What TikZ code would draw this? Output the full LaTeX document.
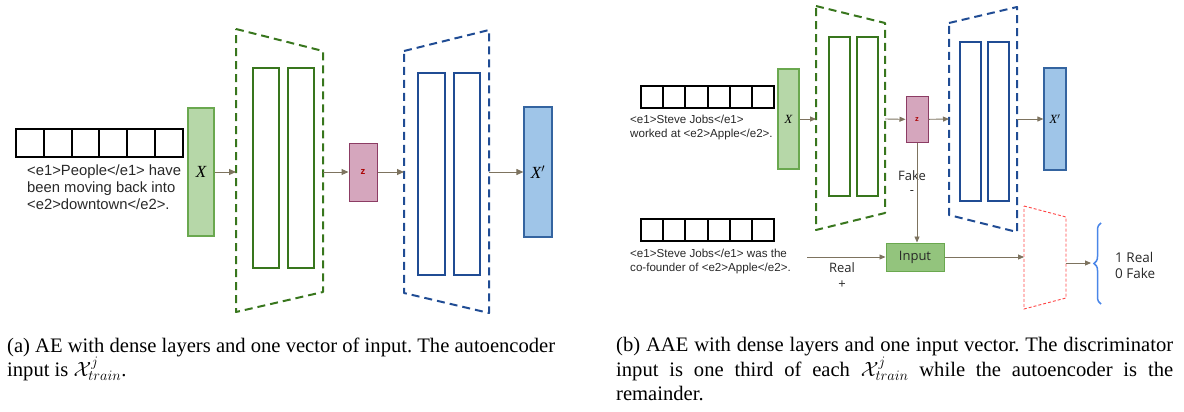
\documentclass[tikz,border=0pt]{standalone}
\usepackage{fix-cm}
\usepackage{fontspec}
\setmainfont{Liberation Serif}
\newfontfamily\arialf{Liberation Sans}
\newfontfamily\osans{Open Sans}
\usetikzlibrary{arrows.meta,decorations.pathreplacing}
\definecolor{arr}{RGB}{125,115,95}
\definecolor{dgreen}{RGB}{56,118,29}
\definecolor{lgreenfill}{RGB}{182,215,168}
\definecolor{lgreen}{RGB}{106,168,79}
\definecolor{inpfill}{RGB}{147,196,125}
\definecolor{dblue}{RGB}{32,76,148}
\definecolor{lbluefill}{RGB}{159,197,232}
\definecolor{lblue}{RGB}{52,100,160}
\definecolor{zfill}{RGB}{213,166,189}
\definecolor{zline}{RGB}{140,60,100}
\definecolor{zlab}{RGB}{170,0,0}
\definecolor{redtrap}{RGB}{255,70,70}
\definecolor{bracec}{RGB}{74,134,232}
\definecolor{txtc}{RGB}{40,40,40}
\frenchspacing
\begin{document}
\begin{tikzpicture}[x=1pt,y=-1pt,
  conn/.style={draw=arr, line width=1pt, -{Triangle[length=7pt,width=6pt]}},
  connS/.style={draw=arr, line width=0.9pt, -{Triangle[length=6pt,width=5pt]}},
  vec/.style={draw=black, line width=2pt, inner sep=0pt},
  vecline/.style={draw=black, line width=2pt},
  xbox/.style={draw=lgreen, fill=lgreenfill, line width=1.2pt, inner sep=0pt},
  xpbox/.style={draw=lblue, fill=lbluefill, line width=1.2pt, inner sep=0pt},
  zbox/.style={draw=zline, fill=zfill, line width=1pt, inner sep=0pt, text=zlab},
  layerG/.style={draw=dgreen, line width=2pt, inner sep=0pt},
  layerB/.style={draw=dblue, line width=2pt, inner sep=0pt},
  trapG/.style={draw=dgreen, line width=2pt, dash pattern=on 8pt off 5pt, line join=round},
  trapB/.style={draw=dblue, line width=2pt, dash pattern=on 8pt off 5pt, line join=round},
  trapR/.style={draw=redtrap, line width=0.9pt, dash pattern=on 3pt off 2pt},
  txtA/.style={font=\arialf\fontsize{14.8}{17}\selectfont, text=txtc, align=left, inner sep=0pt},
  txtB/.style={font=\arialf\fontsize{11.6}{14}\selectfont, text=txtc, align=left, inner sep=0pt},
  lab/.style={font=\osans\fontsize{13}{15}\selectfont, text=txtc, inner sep=0pt},
  captxt/.style={font=\fontsize{20.6}{24.5}\selectfont, inner sep=0pt, anchor=north west}
]
\useasboundingbox (0,0) rectangle (1184,412);

% ===================== (a) AE =====================
\node[vec, minimum width=167pt, minimum height=28pt] (vA) at (99.5,143) {};
\foreach \i in {1,...,5} \draw[vecline] (16+\i*27.833,129) -- (16+\i*27.833,157);
\node[txtA, anchor=north west] (tA) at (27,165) {<e1>People</e1> have\\been moving back into\\<e2>downtown</e2>.};

\node[xbox, minimum width=26pt, minimum height=128pt, font=\fontsize{17}{17}\selectfont\itshape] (XA) at (201,172) {X};

\draw[trapG] (236,29) -- (323,51) -- (323,292) -- (236,312) -- cycle;
\coordinate (eAin) at (236,172);
\coordinate (eAout) at (323,172);
\node[layerG, minimum width=26pt, minimum height=200pt] (gA1) at (266,168) {};
\node[layerG, minimum width=26pt, minimum height=200pt] (gA2) at (301,168) {};

\node[zbox, minimum width=28pt, minimum height=58pt, font=\arialf\fontsize{9.5}{9.5}\selectfont\bfseries] (zA) at (363,172) {z};

\draw[trapB] (404,51) -- (489,30) -- (489,313) -- (404,293) -- cycle;
\coordinate (dAin) at (404,172);
\coordinate (dAout) at (489,172);
\node[layerB, minimum width=27pt, minimum height=202pt] (bA1) at (431.5,174) {};
\node[layerB, minimum width=26pt, minimum height=202pt] (bA2) at (467,174) {};

\node[xpbox, minimum width=28pt, minimum height=130pt, font=\fontsize{17}{17}\selectfont\itshape] (XpA) at (538,172) {X$'$};

\draw[conn] (XA) -- (eAin);
\draw[conn] (eAout) -- (zA);
\draw[conn] (zA) -- (dAin);
\draw[conn] (dAout) -- (XpA);

% ===================== (b) AAE =====================
\node[vec, minimum width=133pt, minimum height=22pt] (vB) at (707.5,97) {};
\foreach \i in {1,...,5} \draw[vecline] (641+\i*22.167,86) -- (641+\i*22.167,108);
\node[txtB, anchor=north west] (tB) at (630,115) {<e1>Steve Jobs</e1>\\worked at <e2>Apple</e2>.};

\node[xbox, minimum width=21pt, minimum height=100pt, font=\fontsize{12.5}{12.5}\selectfont\itshape] (XB) at (788.5,119) {X};

\draw[trapG] (816,6) -- (885,23) -- (885,213) -- (816,230) -- cycle;
\coordinate (eBin) at (816,119);
\coordinate (eBout) at (885,119);
\node[layerG, minimum width=21pt, minimum height=159pt] (gB1) at (839.5,116.5) {};
\node[layerG, minimum width=21pt, minimum height=159pt] (gB2) at (867.5,116.5) {};

\node[zbox, minimum width=22pt, minimum height=45pt, font=\arialf\fontsize{7.5}{7.5}\selectfont\bfseries] (zB) at (917,119.5) {z};

\draw[trapB] (949,23) -- (1017,7) -- (1017,232) -- (949,215) -- cycle;
\coordinate (dBin) at (949,119);
\coordinate (dBout) at (1017,119);
\node[layerB, minimum width=21pt, minimum height=159pt] (bB1) at (970.5,121.5) {};
\node[layerB, minimum width=21pt, minimum height=159pt] (bB2) at (998.5,121.5) {};

\node[xpbox, minimum width=22pt, minimum height=102pt, font=\fontsize{12.5}{12.5}\selectfont\itshape] (XpB) at (1055,119) {X$'$};

\node[vec, minimum width=133pt, minimum height=22pt] (vC) at (707.5,230) {};
\foreach \i in {1,...,5} \draw[vecline] (641+\i*22.167,219) -- (641+\i*22.167,241);
\node[txtB, anchor=north west] (tC) at (630,249) {<e1>Steve Jobs</e1> was the\\co-founder of <e2>Apple</e2>.};

\node[draw=lgreen, fill=inpfill, line width=1pt, minimum width=58pt, minimum height=28pt, lab] (inp) at (915,257) {Input};

\draw[trapR] (1024,206) -- (1066,217) -- (1066,298) -- (1024,309) -- cycle;
\coordinate (rDin) at (1024,257);
\coordinate (rDout) at (1066,263);
\coordinate (brc) at (1091,263);
\coordinate (rs) at (807,257);

\draw[bracec, line width=1.5pt, decorate, decoration={brace, amplitude=7pt}] (1101,304) -- (1101,223);
\node[lab, anchor=west, align=left, font=\osans\fontsize{13.5}{16}\selectfont] (out) at (1115,265) {1 Real\\0 Fake};

\node[lab] (real) at (842,268) {Real};
\node[lab] (plus) at (842,285) {+};
\node[lab] (fake) at (912,176) {Fake};
\node[lab] (minus) at (912,193) {-};

\draw[connS] (XB) -- (eBin);
\draw[connS] (eBout) -- (zB);
\draw[connS] (zB) -- (dBin);
\draw[connS] (dBout) -- (XpB);
\draw[connS] (zB) -- (zB |- inp.north);
\draw[connS] (rs) -- (inp);
\draw[connS] (inp) -- (rDin);
\draw[connS] (rDout) -- (brc);

% ===================== captions =====================
\node[captxt, align=left] (capA) at (7,337.5) {(a) AE with dense layers and one vector of input. The autoencoder\\input is $\mathcal{X}^j_{train}$.};
\node[captxt, text width=557pt, align=justify] (capB) at (616,337.5) {(b) AAE with dense layers and one input vector. The discriminator\linebreak input is one third of each $\mathcal{X}^j_{train}$ while the autoencoder is the\linebreak remainder.};
\end{tikzpicture}
\end{document}
